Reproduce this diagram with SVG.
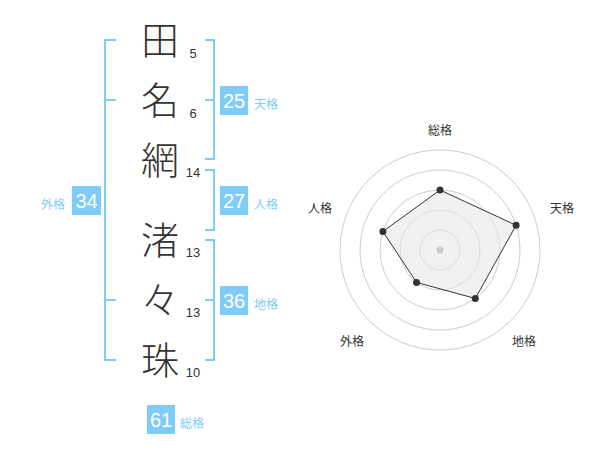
<svg xmlns="http://www.w3.org/2000/svg" width="600" height="470" viewBox="0 0 600 470">
<style>
.kanji{font-family:"Noto Sans CJK JP","Noto Sans CJK SC",sans-serif;font-size:38px;font-weight:300;fill:#333;text-anchor:middle}
.stroke{font-family:"Liberation Sans",Arial,sans-serif;font-size:13px;fill:#333;text-anchor:middle}
.br{fill:none;stroke:#80ccf8;stroke-width:2}
.box{fill:#80ccf8}
.num{font-family:"Liberation Sans",Arial,sans-serif;font-size:20px;fill:#fff;text-anchor:middle}
.lab{font-family:"Noto Sans CJK JP","Noto Sans CJK SC",sans-serif;font-size:12px;fill:#80ccf8}
.rlab{font-family:"Noto Sans CJK JP","Noto Sans CJK SC",sans-serif;font-size:12px;fill:#333;text-anchor:middle}
.ring{fill:none;stroke:#ccc;stroke-width:1}
</style>
<rect width="600" height="470" fill="#fff"/>
<g id="name">
<g id="c1"><text class="kanji" x="160" y="54">田</text><text class="stroke" x="193" y="58">5</text></g>
<g id="c2"><text class="kanji" x="160" y="114">名</text><text class="stroke" x="193" y="118">6</text></g>
<g id="c3"><text class="kanji" x="160" y="174">網</text><text class="stroke" x="193" y="177">14</text></g>
<g id="c4"><text class="kanji" x="160" y="254">渚</text><text class="stroke" x="193" y="257">13</text></g>
<g id="c5"><text class="kanji" x="160" y="314">々</text><text class="stroke" x="193" y="317">13</text></g>
<g id="c6"><text class="kanji" x="160" y="374">珠</text><text class="stroke" x="193" y="377">10</text></g>
</g>
<g id="connectors">
<path class="br" d="M116,40H105V360H116M105,100H116M105,300H116"/>
<path class="br" d="M205,40H214V159H205M214,100H205"/>
<path class="br" d="M205,170H214V230H205"/>
<path class="br" d="M205,240H214V360H205M214,300H205"/>
</g>
<g id="tenkaku"><rect class="box" x="220" y="86" width="28" height="29"/><text class="num" x="234" y="108">25</text><text class="lab" x="254" y="109">天格</text></g>
<g id="jinkaku"><rect class="box" x="220" y="186" width="28" height="29"/><text class="num" x="234" y="208">27</text><text class="lab" x="254" y="209">人格</text></g>
<g id="chikaku"><rect class="box" x="220" y="286" width="28" height="29"/><text class="num" x="234" y="308">36</text><text class="lab" x="254" y="309">地格</text></g>
<g id="gaikaku"><rect class="box" x="72" y="186" width="29" height="29"/><text class="num" x="86.5" y="208">34</text><text class="lab" x="65" y="209" text-anchor="end">外格</text></g>
<g id="soukaku"><rect class="box" x="147" y="405" width="28" height="29"/><text class="num" x="161" y="427">61</text><text class="lab" x="180" y="428">総格</text></g>
<g id="radar">
<circle class="ring" cx="440" cy="250" r="20"/>
<circle class="ring" cx="440" cy="250" r="40"/>
<circle class="ring" cx="440" cy="250" r="60"/>
<circle class="ring" cx="440" cy="250" r="80"/>
<circle class="ring" cx="440" cy="250" r="100"/>
<polygon points="440,190 516.1,225.3 475.3,298.5 416.5,282.4 382.9,231.5" fill="#e8e8e8" fill-opacity="0.6" stroke="#333" stroke-width="1"/>
<circle cx="440" cy="250" r="3.5" fill="#ccc"/>
<g fill="#333">
<circle cx="440" cy="190" r="3.5"/>
<circle cx="516.1" cy="225.3" r="3.5"/>
<circle cx="475.3" cy="298.5" r="3.5"/>
<circle cx="416.5" cy="282.4" r="3.5"/>
<circle cx="382.9" cy="231.5" r="3.5"/>
</g>
<text class="rlab" x="440" y="135">総格</text>
<text class="rlab" x="562" y="213">天格</text>
<text class="rlab" x="524" y="346">地格</text>
<text class="rlab" x="352" y="346">外格</text>
<text class="rlab" x="320" y="213">人格</text>
</g>
</svg>
